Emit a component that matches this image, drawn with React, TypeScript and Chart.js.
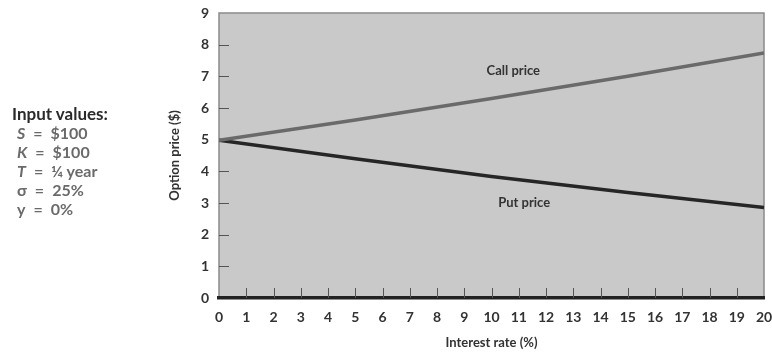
import React, { useEffect, useRef } from "react";
import { Chart, registerables } from "chart.js";

Chart.register(...registerables);

const rates = [0, 5, 10, 15, 20];
const callPrices = [4.98, 5.62, 6.3, 7.0, 7.74];
const putPrices = [4.98, 4.4, 3.84, 3.33, 2.86];
const yTickValues = [1, 2, 3, 4, 5, 6, 7, 8];
const xTickValues = [1, 2, 3, 4, 5, 6, 7, 8, 9, 10, 11, 12, 13, 14, 15, 16, 17, 18, 19];
const lineLabels = ["Call price", "Put price"];
const lineLabelX = [10.8, 11.2];
const lineLabelY = [7.18, 3.0];

const FONT = "Lato, 'DejaVu Sans', sans-serif";

const decorPlugin = {
  id: "decor",
  beforeDraw(chart: any) {
    const { ctx, chartArea: a } = chart;
    ctx.save();
    ctx.fillStyle = "#c9c9c9";
    ctx.fillRect(a.left, a.top, a.right - a.left, a.bottom - a.top);
    ctx.strokeStyle = "#8a8a8a";
    ctx.lineWidth = 1.5;
    ctx.strokeRect(a.left, a.top, a.right - a.left, a.bottom - a.top);
    ctx.restore();
  },
  beforeDatasetsDraw(chart: any) {
    const { ctx, chartArea: a, scales } = chart;
    ctx.save();
    ctx.strokeStyle = "#555";
    ctx.lineWidth = 1;
    ctx.beginPath();
    for (const v of yTickValues) {
      const y = Math.round(scales.y.getPixelForValue(v)) + 0.5;
      ctx.moveTo(a.left, y);
      ctx.lineTo(a.left + 10, y);
    }
    for (const v of xTickValues) {
      const x = Math.round(scales.x.getPixelForValue(v)) + 0.5;
      ctx.moveTo(x, a.bottom);
      ctx.lineTo(x, a.bottom - 10);
    }
    ctx.stroke();
    ctx.restore();
  },
  afterDatasetsDraw(chart: any) {
    const { ctx, scales } = chart;
    ctx.save();
    ctx.fillStyle = "#333";
    ctx.font = `bold 13px ${FONT}`;
    ctx.textAlign = "center";
    ctx.textBaseline = "middle";
    lineLabels.forEach((t, i) => {
      ctx.fillText(t, scales.x.getPixelForValue(lineLabelX[i]), scales.y.getPixelForValue(lineLabelY[i]));
    });
    ctx.restore();
  },
};

export default function App() {
  const ref = useRef<HTMLCanvasElement | null>(null);
  useEffect(() => {
    if (!ref.current) return;
    const chart = new Chart(ref.current, {
      type: "line",
      data: {
        datasets: [
          {
            label: "Call price",
            data: rates.map((r, i) => ({ x: r, y: callPrices[i] })),
            borderColor: "#6a6a6a",
            borderWidth: 3.5,
            pointRadius: 0,
            tension: 0,
          },
          {
            label: "Put price",
            data: rates.map((r, i) => ({ x: r, y: putPrices[i] })),
            borderColor: "#262626",
            borderWidth: 3.5,
            pointRadius: 0,
            tension: 0,
          },
        ],
      },
      options: {
        animation: false,
        responsive: true,
        maintainAspectRatio: false,
        layout: { padding: { left: 165, right: 8, top: 13, bottom: 0 } },
        plugins: { legend: { display: false }, tooltip: { enabled: false } },
        scales: {
          x: {
            type: "linear",
            min: 0,
            max: 20,
            afterFit: (s: any) => {
              s.height = 54;
              s.paddingLeft = 0;
              s.paddingRight = 0;
            },
            grid: { display: false, drawTicks: false },
            border: { display: true, color: "#222", width: 3.5 },
            ticks: {
              stepSize: 1,
              padding: 11,
              color: "#333",
              font: { family: FONT, size: 14, weight: "bold" },
              maxRotation: 0,
              autoSkip: false,
            },
            title: {
              display: true,
              text: "Interest rate (%)",
              color: "#333",
              font: { family: FONT, size: 13, weight: "bold" },
              padding: { top: 0, bottom: 1 },
            },
          },
          y: {
            type: "linear",
            min: 0,
            max: 9,
            afterFit: (s: any) => {
              s.width = 54;
              s.paddingTop = 0;
              s.paddingBottom = 0;
            },
            grid: { display: false, drawTicks: false },
            border: { display: false },
            ticks: {
              stepSize: 1,
              padding: 10,
              color: "#333",
              font: { family: FONT, size: 14, weight: "bold" },
            },
            title: {
              display: true,
              text: "Option price ($)",
              color: "#333",
              font: { family: FONT, size: 13, weight: "bold" },
              padding: { top: 2, bottom: 0 },
            },
          },
        },
      },
      plugins: [decorPlugin],
    } as any);
    return () => chart.destroy();
  }, []);

  const lineStyle: React.CSSProperties = {
    position: "absolute",
    left: 17,
    fontFamily: FONT,
    fontWeight: "bold",
    fontSize: 16,
    color: "#6a6a6a",
    lineHeight: "19px",
    whiteSpace: "nowrap",
  };
  const eq = "\u2002=\u2002";

  return (
    <div style={{ position: "absolute", left: 0, top: 0, width: 772, height: 352, background: "#fff" }}>
      <canvas ref={ref} style={{ position: "absolute", left: 0, top: 0 }} />
      <div style={{ ...lineStyle, left: 12, top: 104, fontSize: 17, color: "#2a2a2a" }}>Input values:</div>
      <div style={{ ...lineStyle, top: 123 }}><i>S</i>{eq}$100</div>
      <div style={{ ...lineStyle, top: 142 }}><i>K</i>{eq}$100</div>
      <div style={{ ...lineStyle, top: 161 }}><i>T</i>{eq}¼ year</div>
      <div style={{ ...lineStyle, top: 180 }}>σ{eq}25%</div>
      <div style={{ ...lineStyle, top: 199 }}>y{eq}0%</div>
    </div>
  );
}
